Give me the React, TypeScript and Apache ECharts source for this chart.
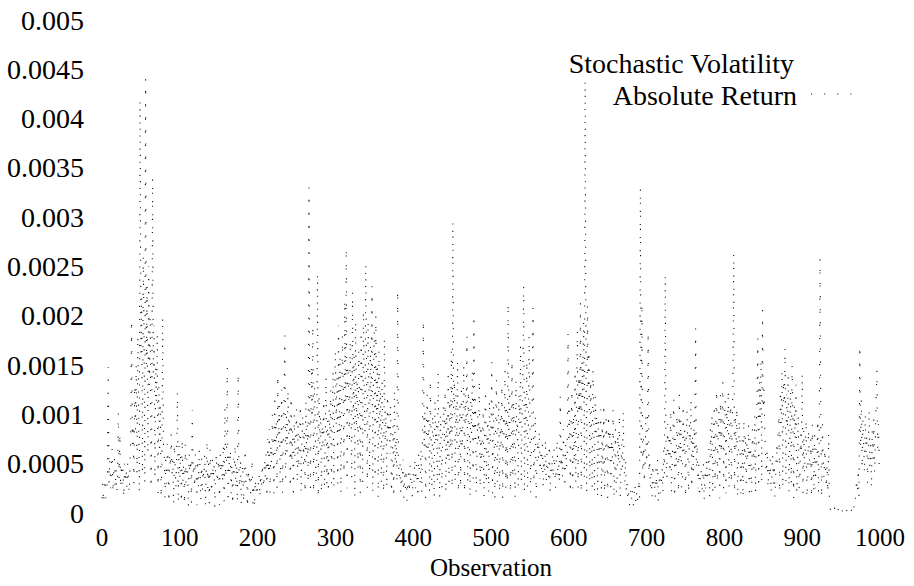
import React, { useEffect, useRef } from "react";
import * as echarts from "echarts";

const r000 = [
  15, 30, 10, 25, 35, 15, 22, 40, 148, 30,
  55, 25, 45, 65, 20, 40, 55, 25, 45, 20,
  35, 102, 35, 81, 25, 50, 30, 45, 15, 50,
  30, 45, 25, 50, 35, 20, 45, 85, 196, 70,
  90, 30, 130, 85, 150, 40, 180, 120, 20, 419,
  160, 220, 40, 260, 190, 30, 440, 150, 230, 60,
  250, 130, 200, 25, 90, 340, 140, 190, 35, 150,
  110, 182, 20, 130, 60, 110, 15, 50, 199, 70,
  60, 15, 55, 30, 70, 50, 10, 60, 45, 80,
  40, 55, 8, 70, 50, 25, 60, 123, 10, 70,
];
const r100 = [
  35, 60, 10, 75, 30, 50, 8, 70, 30, 55,
  45, 5, 60, 40, 55, 10, 104, 40, 50, 25,
  60, 40, 8, 55, 25, 65, 45, 12, 55, 20,
  45, 35, 60, 6, 45, 74, 25, 50, 10, 65,
  40, 20, 55, 35, 50, 5, 45, 60, 30, 40,
  55, 8, 60, 40, 50, 30, 70, 12, 107, 35,
  50, 148, 10, 60, 40, 65, 20, 50, 8, 55,
  40, 70, 25, 50, 10, 142, 45, 25, 55, 8,
  40, 50, 10, 45, 65, 30, 40, 5, 45, 30,
  40, 20, 35, 55, 10, 30, 5, 35, 20, 30,
];
const r200 = [
  20, 30, 40, 15, 40, 25, 50, 35, 25, 55,
  35, 60, 15, 75, 40, 85, 20, 70, 50, 100,
  65, 20, 120, 60, 95, 25, 140, 70, 110, 30,
  60, 125, 20, 70, 115, 180, 35, 100, 60, 125,
  80, 95, 25, 118, 50, 85, 15, 100, 55, 80,
  105, 30, 90, 45, 80, 110, 20, 75, 100, 50,
  85, 20, 115, 55, 90, 30, 330, 110, 25, 150,
  95, 190, 20, 130, 105, 30, 50, 243, 15, 120,
  70, 100, 20, 90, 70, 115, 25, 80, 138, 30,
  95, 20, 105, 75, 125, 30, 90, 145, 25, 120,
];
const r300 = [
  165, 90, 140, 30, 190, 80, 160, 20, 95, 180,
  130, 40, 216, 110, 269, 25, 150, 125, 70, 175,
  110, 35, 225, 95, 160, 15, 195, 85, 135, 45,
  165, 115, 20, 185, 140, 30, 205, 125, 80, 253,
  150, 25, 195, 130, 40, 170, 115, 230, 20, 145,
  185, 35, 200, 90, 150, 15, 165, 75, 125, 30,
  135, 80, 20, 178, 70, 100, 25, 120, 80, 100,
  60, 110, 20, 40, 90, 15, 125, 50, 75, 30,
  226, 55, 35, 50, 20, 45, 30, 54, 15, 40,
  25, 45, 12, 35, 40, 20, 50, 30, 35, 15,
];
const r400 = [
  40, 30, 55, 25, 50, 35, 15, 60, 40, 30,
  65, 20, 85, 196, 65, 105, 15, 85, 120, 60,
  95, 20, 135, 75, 25, 100, 80, 15, 115, 70,
  90, 30, 143, 80, 15, 100, 70, 25, 90, 110,
  70, 125, 20, 100, 55, 145, 30, 115, 65, 165,
  25, 296, 105, 135, 30, 120, 70, 155, 20, 55,
  110, 25, 130, 65, 100, 150, 20, 120, 90, 179,
  30, 125, 95, 15, 115, 80, 145, 35, 201, 75,
  115, 20, 55, 100, 70, 135, 25, 90, 45, 80,
  105, 15, 90, 125, 30, 80, 95, 20, 115, 70,
];
const r500 = [
  85, 153, 20, 110, 75, 15, 95, 135, 30, 85,
  115, 20, 95, 70, 130, 15, 100, 80, 145, 25,
  105, 30, 213, 75, 125, 20, 60, 155, 35, 115,
  70, 15, 135, 80, 95, 25, 120, 90, 170, 30,
  100, 140, 231, 20, 120, 70, 155, 25, 80, 180,
  100, 20, 75, 115, 208, 30, 60, 100, 15, 45,
  75, 55, 84, 35, 60, 45, 70, 25, 55, 40,
  75, 30, 60, 45, 35, 70, 20, 50, 40, 60,
  35, 65, 45, 25, 55, 75, 35, 50, 30, 118,
  45, 65, 35, 85, 55, 25, 70, 45, 60, 182,
];
const r600 = [
  70, 105, 20, 90, 125, 25, 100, 50, 145, 30,
  120, 185, 25, 140, 100, 213, 20, 155, 115, 195,
  35, 439, 175, 20, 210, 125, 165, 30, 135, 105,
  25, 145, 110, 20, 120, 80, 100, 15, 95, 45,
  80, 105, 15, 90, 40, 111, 20, 50, 95, 70,
  15, 100, 65, 85, 20, 75, 55, 105, 15, 40,
  85, 20, 30, 80, 50, 100, 15, 35, 70, 45,
  104, 50, 30, 55, 20, 30, 12, 20, 8, 15,
  25, 12, 22, 8, 18, 30, 12, 22, 10, 18,
  35, 15, 330, 55, 213, 40, 75, 30, 50, 100,
];
const r700 = [
  50, 70, 184, 40, 55, 25, 40, 15, 50, 30,
  35, 15, 45, 25, 55, 10, 30, 40, 20, 30,
  45, 20, 65, 40, 242, 55, 35, 90, 55, 80,
  40, 105, 20, 50, 90, 115, 15, 75, 45, 100,
  65, 20, 120, 55, 95, 25, 35, 110, 60, 85,
  15, 80, 105, 60, 20, 90, 70, 115, 25, 80,
  40, 95, 60, 187, 45, 70, 25, 50, 15, 35,
  45, 20, 30, 50, 12, 40, 25, 55, 35, 50,
  65, 15, 85, 55, 100, 20, 80, 110, 25, 95,
  125, 30, 85, 105, 15, 120, 60, 100, 133, 25,
];
const r800 = [
  95, 115, 20, 105, 80, 125, 25, 95, 110, 30,
  90, 135, 264, 20, 100, 65, 107, 15, 55, 95,
  70, 20, 45, 75, 15, 95, 50, 80, 30, 70,
  55, 90, 15, 75, 60, 20, 85, 64, 45, 100,
  20, 80, 120, 177, 25, 135, 95, 155, 30, 206,
  105, 125, 80, 55, 40, 65, 25, 45, 35, 55,
  20, 40, 60, 30, 50, 15, 40, 70, 50, 80,
  100, 20, 125, 90, 145, 25, 135, 110, 168, 30,
  120, 85, 140, 20, 70, 125, 30, 150, 100, 15,
  110, 75, 130, 20, 50, 100, 25, 35, 80, 60,
];
const r900 = [
  142, 20, 85, 40, 70, 95, 15, 30, 85, 60,
  45, 75, 15, 90, 55, 20, 80, 25, 65, 50,
  95, 20, 85, 258, 75, 15, 90, 55, 35, 65,
  45, 25, 50, 20, 81, 12, 4, 2, 5, 3,
  1, 3, 6, 2, 4, 1, 3, 5, 2, 0,
  3, 1, 4, 2, 5, 3, 1, 2, 4, 2,
  3, 5, 1, 2, 6, 3, 8, 4, 12, 20,
  35, 20, 45, 15, 170, 65, 115, 45, 95, 70,
  40, 100, 60, 80, 30, 65, 105, 45, 75, 25,
  85, 55, 95, 40, 70, 115, 145, 65, 90, 45,
];

const absReturn = [...r000, ...r100, ...r200, ...r300, ...r400, ...r500, ...r600, ...r700, ...r800, ...r900];

const xTitle = "Observation";
const keyTitle = "Stochastic Volatility";
const seriesName = "Absolute Return";

const FONT = "Liberation Serif";

export default function App() {
  const ref = useRef<HTMLDivElement>(null);
  useEffect(() => {
    if (!ref.current) return;
    const chart = echarts.init(ref.current, null, { renderer: "svg" });
    const data = absReturn.map((v, i) => [i, v * 1e-5]);
    chart.setOption({
      animation: false,
      backgroundColor: "#fff",
      grid: { left: 102, right: 34, top: 20, bottom: 73, containLabel: false },
      xAxis: {
        type: "value",
        min: 0,
        max: 1000,
        interval: 100,
        axisLine: { show: false },
        axisTick: { show: false },
        splitLine: { show: false },
        axisLabel: {
          color: "#000",
          fontFamily: FONT,
          fontSize: 25,
          margin: 12,
          formatter: (v: number) => String(v),
        },
        name: xTitle,
        nameLocation: "middle",
        nameGap: 38,
        nameTextStyle: { color: "#000", fontFamily: FONT, fontSize: 25 },
      },
      yAxis: {
        type: "value",
        min: 0,
        max: 0.005,
        interval: 0.0005,
        axisLine: { show: false },
        axisTick: { show: false },
        splitLine: { show: false },
        axisLabel: {
          color: "#000",
          fontFamily: FONT,
          fontSize: 28,
          margin: 18,
          formatter: (v: number) => String(+v.toFixed(4)),
        },
      },
      series: [
        {
          name: seriesName,
          type: "line",
          data,
          showSymbol: false,
          symbol: "none",
          clip: false,
          lineStyle: { color: "#111", width: 1.1, type: [1.1, 12] },
        },
      ],
      graphic: [
        {
          type: "text",
          x: 794,
          y: 63,
          style: {
            text: keyTitle,
            align: "right",
            verticalAlign: "middle",
            fontFamily: FONT,
            fontSize: 28,
            fill: "#000",
          },
        },
        {
          type: "text",
          x: 797,
          y: 95,
          style: {
            text: seriesName,
            align: "right",
            verticalAlign: "middle",
            fontFamily: FONT,
            fontSize: 28,
            fill: "#000",
          },
        },
        {
          type: "line",
          shape: { x1: 811, y1: 94, x2: 858, y2: 94 },
          style: { stroke: "#111", lineWidth: 1.1, lineDash: [1.1, 12] },
        },
      ],
    });
    return () => chart.dispose();
  }, []);
  return <div ref={ref} style={{ width: 914, height: 586, position: "absolute", left: 0, top: 0 }} />;
}
